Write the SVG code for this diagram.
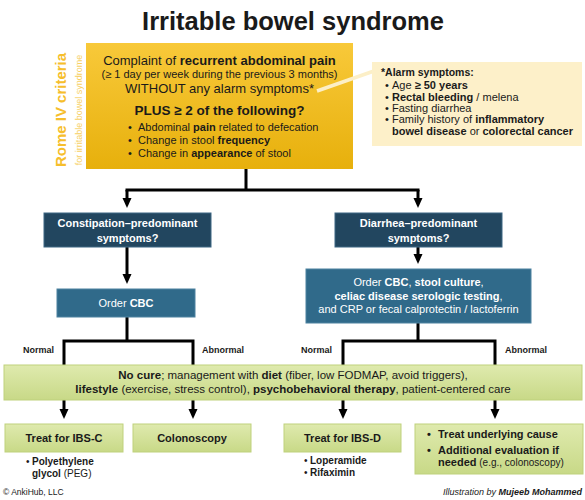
<svg xmlns="http://www.w3.org/2000/svg" width="585" height="500" viewBox="0 0 585 500">
<defs>
<style>
text{font-family:"Liberation Sans",Arial,sans-serif;fill:#1a1a1a}
.b{font-weight:bold}
.c{text-anchor:middle}
.w{fill:#ffffff}
.navy{fill:#22465F;stroke:#3C6683;stroke-width:1}
.steel{fill:#306A8A;stroke:#4C82A0;stroke-width:1}
.green{fill:url(#gg);stroke:#BFD17C;stroke-width:1}
.ln{fill:none;stroke:#000;stroke-width:3}
</style>
<linearGradient id="gy" x1="0" y1="0" x2="0" y2="1"><stop offset="0" stop-color="#F8C93A"/><stop offset="1" stop-color="#E7B00C"/></linearGradient>
<linearGradient id="gg" x1="0" y1="0" x2="0" y2="1"><stop offset="0" stop-color="#DFEAAE"/><stop offset="1" stop-color="#C8D987"/></linearGradient>
<marker id="ah" markerUnits="userSpaceOnUse" markerWidth="10" markerHeight="10" refX="5" refY="4.5" orient="auto"><path d="M0,0 L10,4.5 L0,9 z" fill="#000"/></marker>
</defs>
<rect width="585" height="500" fill="#ffffff"/>

<text x="293" y="30" font-size="25.5" class="b c" fill="#000">Irritable bowel syndrome</text>

<g id="criteria">
<rect x="86" y="43" width="267" height="126" fill="url(#gy)"/>
<text transform="translate(66,110) rotate(-90)" font-size="15" class="b c" style="fill:#F6BE2C">Rome IV criteria</text>
<text transform="translate(82,110) rotate(-90)" font-size="9" class="c" style="fill:#F7D064">for irritable bowel syndrome</text>
<text x="219.5" y="65" font-size="13" class="c">Complaint of <tspan class="b">recurrent abdominal pain</tspan></text>
<text x="219.5" y="78" font-size="11" class="c">(≥ 1 day per week during the previous 3 months)</text>
<text x="219.5" y="93.3" font-size="13" class="c">WITHOUT any alarm symptoms*</text>
<text x="219.5" y="115" font-size="13.5" class="b c">PLUS ≥ 2 of the following?</text>
<text x="128" y="130.7" font-size="11">•</text><text x="138" y="130.7" font-size="11">Abdominal <tspan class="b">pain</tspan> related to defecation</text>
<text x="128" y="144" font-size="11">•</text><text x="138" y="144" font-size="11">Change in stool <tspan class="b">frequency</tspan></text>
<text x="128" y="157.3" font-size="11">•</text><text x="138" y="157.3" font-size="11">Change in <tspan class="b">appearance</tspan> of stool</text>
</g>

<g id="alarm">
<line x1="317" y1="91" x2="374" y2="71" stroke="#FCEFC7" stroke-width="3.5"/>
<rect x="372" y="62" width="210" height="84" fill="#FDF0C9"/>
<text x="381" y="76" font-size="10.5" class="b">*Alarm symptoms:</text>
<text x="385" y="89.3" font-size="11">•</text><text x="392" y="89.3" font-size="11">Age <tspan class="b">≥ 50 years</tspan></text>
<text x="385" y="100.7" font-size="11">•</text><text x="392" y="100.7" font-size="11"><tspan class="b">Rectal bleeding</tspan> / melena</text>
<text x="385" y="112" font-size="11">•</text><text x="392" y="112" font-size="11">Fasting diarrhea</text>
<text x="385" y="123.3" font-size="11">•</text><text x="392" y="123.3" font-size="11">Family history of <tspan class="b">inflammatory</tspan></text>
<text x="392" y="134.6" font-size="11"><tspan class="b">bowel disease</tspan> or <tspan class="b">colorectal cancer</tspan></text>
</g>

<g id="connectors">
<path class="ln" d="M246,169 V190 M125.5,190 H419.5"/>
<path class="ln" d="M127,190 V203" marker-end="url(#ah)"/>
<path class="ln" d="M418,190 V203" marker-end="url(#ah)"/>
<path class="ln" d="M127,247 V279" marker-end="url(#ah)"/>
<path class="ln" d="M418,247 V259" marker-end="url(#ah)"/>
<path class="ln" d="M127,317 V341 M64,365 V341 H193 V365"/>
<path class="ln" d="M418,323 V341 M343,365 V341 H495 V365"/>
<path class="ln" d="M64,400 V414" marker-end="url(#ah)"/>
<path class="ln" d="M193,400 V414" marker-end="url(#ah)"/>
<path class="ln" d="M343,400 V414" marker-end="url(#ah)"/>
<path class="ln" d="M495,400 V414" marker-end="url(#ah)"/>
<text x="23" y="353" font-size="9" class="b">Normal</text>
<text x="202" y="353" font-size="9" class="b">Abnormal</text>
<text x="301" y="353" font-size="9" class="b">Normal</text>
<text x="505" y="353" font-size="9" class="b">Abnormal</text>
</g>

<g id="constipation">
<rect class="navy" x="44" y="213" width="167" height="34"/>
<text x="127.5" y="226.7" font-size="11" class="b c w">Constipation–predominant</text>
<text x="127.5" y="241.7" font-size="11" class="b c w">symptoms?</text>
</g>

<g id="diarrhea">
<rect class="navy" x="335" y="213" width="167" height="34"/>
<text x="418.5" y="226.7" font-size="11" class="b c w">Diarrhea–predominant</text>
<text x="418.5" y="241.7" font-size="11" class="b c w">symptoms?</text>
</g>

<g id="order-cbc">
<rect class="steel" x="57" y="289" width="138" height="28"/>
<text x="126" y="306.7" font-size="11" class="c w">Order <tspan class="b w">CBC</tspan></text>
</g>

<g id="order-tests">
<rect class="steel" x="306" y="269" width="225" height="54"/>
<text x="418.5" y="286" font-size="11" class="c w">Order <tspan class="b w">CBC</tspan>, <tspan class="b w">stool culture</tspan>,</text>
<text x="418.5" y="299.5" font-size="11" class="b c w">celiac disease serologic testing<tspan font-weight="normal" class="w">,</tspan></text>
<text x="418.5" y="313" font-size="11" class="c w">and CRP or fecal calprotectin / lactoferrin</text>
</g>

<g id="management">
<rect class="green" x="4" y="365" width="578" height="35"/>
<text x="293" y="379" font-size="11.5" class="c"><tspan class="b">No cure</tspan>; management with <tspan class="b">diet</tspan> (fiber, low FODMAP, avoid triggers),</text>
<text x="293" y="393" font-size="11.5" class="c"><tspan class="b">lifestyle</tspan> (exercise, stress control), <tspan class="b">psychobehavioral therapy</tspan>, patient-centered care</text>
</g>

<g id="ibs-c">
<rect class="green" x="5" y="424" width="118" height="28"/>
<text x="64" y="442" font-size="11" class="b c">Treat for IBS-C</text>
<text x="26" y="465" font-size="10">•</text><text x="32" y="465" font-size="10" class="b">Polyethylene</text>
<text x="32" y="477" font-size="10"><tspan class="b">glycol</tspan> (PEG)</text>
</g>

<g id="colonoscopy">
<rect class="green" x="133" y="424" width="118" height="28"/>
<text x="192" y="442" font-size="11" class="b c">Colonoscopy</text>
</g>

<g id="ibs-d">
<rect class="green" x="284" y="424" width="117" height="28"/>
<text x="342.5" y="442" font-size="11" class="b c">Treat for IBS-D</text>
<text x="304" y="464" font-size="10">•</text><text x="310" y="464" font-size="10" class="b">Loperamide</text>
<text x="304" y="475.5" font-size="10">•</text><text x="310" y="475.5" font-size="10" class="b">Rifaximin</text>
</g>

<g id="abnormal-care">
<rect class="green" x="415" y="424" width="168" height="50"/>
<text x="427" y="438.3" font-size="11" class="b">•</text><text x="438" y="438.3" font-size="11" class="b">Treat underlying cause</text>
<text x="427" y="454" font-size="11" class="b">•</text><text x="438" y="454" font-size="11" class="b">Additional evaluation if</text>
<text x="438" y="466" font-size="11"><tspan class="b">needed</tspan><tspan font-size="10"> (e.g., colonoscopy)</tspan></text>
</g>

<text x="3" y="495" font-size="8.5">© AnkiHub, LLC</text>
<text x="582" y="495" font-size="9" font-style="italic" text-anchor="end">Illustration by <tspan class="b">Mujeeb Mohammed</tspan></text>
</svg>
